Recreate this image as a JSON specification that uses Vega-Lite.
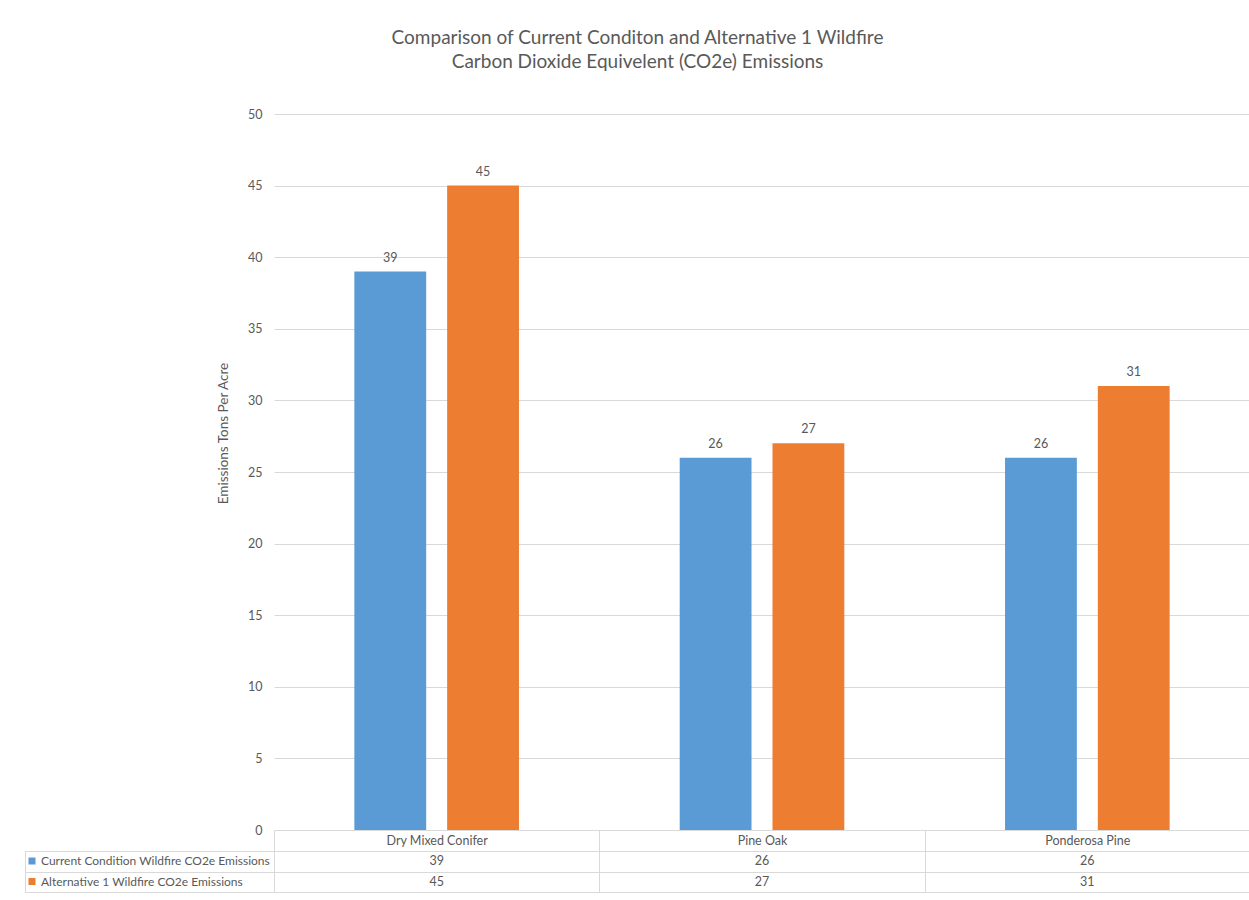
{
  "$schema": "https://vega.github.io/schema/vega-lite/v6.json",
  "padding": {"left": 24, "top": 29, "right": 0, "bottom": 0},
  "background": "white",
  "title": {
    "text": ["Comparison of Current Conditon and Alternative 1 Wildfire", "Carbon Dioxide Equivelent (CO2e) Emissions"],
    "fontSize": 19,
    "font": "Lato",
    "fontWeight": "normal",
    "color": "#595959",
    "anchor": "middle",
    "offset": 36,
    "lineHeight": 24
  },
  "data": {
    "values": [
      {"type": "Dry Mixed Conifer", "series": "Current Condition Wildfire CO2e Emissions", "value": 39},
      {"type": "Dry Mixed Conifer", "series": "Alternative 1 Wildfire CO2e Emissions", "value": 45},
      {"type": "Pine Oak", "series": "Current Condition Wildfire CO2e Emissions", "value": 26},
      {"type": "Pine Oak", "series": "Alternative 1 Wildfire CO2e Emissions", "value": 27},
      {"type": "Ponderosa Pine", "series": "Current Condition Wildfire CO2e Emissions", "value": 26},
      {"type": "Ponderosa Pine", "series": "Alternative 1 Wildfire CO2e Emissions", "value": 31}
    ]
  },
  "bounds": "flush",
  "spacing": 21,
  "resolve": {"scale": {"color": "independent"}, "legend": {"color": "independent"}},
  "config": {"view": {"stroke": null}, "font": "Lato"},
  "vconcat": [
    {
      "width": 976,
      "height": 716,
      "layer": [
        {
          "mark": {"type": "bar"},
          "encoding": {
            "x": {"field": "type", "type": "nominal", "sort": null, "axis": null, "scale": {"paddingInner": 0.494, "paddingOuter": 0.247}},
            "xOffset": {"field": "series", "type": "nominal", "sort": ["Current Condition Wildfire CO2e Emissions", "Alternative 1 Wildfire CO2e Emissions"], "scale": {"paddingInner": 0.226, "paddingOuter": 0}},
            "y": {
              "field": "value", "type": "quantitative",
              "scale": {"domain": [0, 50]},
              "axis": {
                "title": "Emissions Tons Per Acre",
                "values": [0, 5, 10, 15, 20, 25, 30, 35, 40, 45, 50],
                "grid": true, "gridColor": "#d9d9d9",
                "domain": false, "ticks": false,
                "labelPadding": 12, "labelFontSize": 12.5, "labelColor": "#595959",
                "titleFontSize": 13.5, "titleFontWeight": "normal", "titleColor": "#595959", "titlePadding": 17,
                "titleY": 319
              }
            },
            "color": {
              "field": "series", "type": "nominal",
              "scale": {"domain": ["Current Condition Wildfire CO2e Emissions", "Alternative 1 Wildfire CO2e Emissions"], "range": ["#5b9bd5", "#ed7d31"]},
              "legend": null
            }
          }
        },
        {
          "mark": {"type": "text", "baseline": "middle", "dy": -14, "fontSize": 12.5, "color": "#595959"},
          "encoding": {
            "x": {"field": "type", "type": "nominal", "sort": null},
            "xOffset": {"field": "series", "type": "nominal", "sort": ["Current Condition Wildfire CO2e Emissions", "Alternative 1 Wildfire CO2e Emissions"]},
            "y": {"field": "value", "type": "quantitative"},
            "text": {"field": "value", "type": "quantitative"}
          }
        }
      ]
    },
    {
      "width": 976,
      "height": 41,
      "layer": [
        {
          "mark": {"type": "text", "fontSize": 12.5, "color": "#595959"},
          "encoding": {
            "x": {
              "field": "type", "type": "nominal", "sort": null,
              "scale": {"type": "band", "padding": 0},
              "axis": {
                "orient": "top", "title": null, "labelAngle": 0,
                "tickBand": "extent", "tickSize": 21, "tickColor": "#d9d9d9",
                "labelPadding": -10.5, "labelBaseline": "middle", "labelFontSize": 12.5, "labelColor": "#595959",
                "domainColor": "#d9d9d9",
                "grid": true, "gridBand": "extent", "gridColor": "#d9d9d9"
              }
            },
            "y": {
              "field": "series", "type": "nominal",
              "sort": ["Current Condition Wildfire CO2e Emissions", "Alternative 1 Wildfire CO2e Emissions"],
              "scale": {"type": "band", "padding": 0},
              "axis": {
                "title": null, "labels": false, "offset": 249,
                "domainColor": "#d9d9d9",
                "tickSize": -249, "tickBand": "extent", "tickColor": "#d9d9d9",
                "grid": true, "gridBand": "extent", "gridColor": "#d9d9d9"
              }
            },
            "text": {"field": "value", "type": "quantitative"}
          }
        },
        {
          "mark": {"type": "square", "opacity": 0},
          "encoding": {
            "x": {"field": "type", "type": "nominal", "sort": null},
            "y": {"field": "series", "type": "nominal", "sort": ["Current Condition Wildfire CO2e Emissions", "Alternative 1 Wildfire CO2e Emissions"]},
            "color": {
              "field": "series", "type": "nominal",
              "scale": {"domain": ["Current Condition Wildfire CO2e Emissions", "Alternative 1 Wildfire CO2e Emissions"], "range": ["#5b9bd5", "#ed7d31"]},
              "legend": {
                "orient": "none", "legendX": -248, "legendY": 4,
                "title": null, "symbolType": "square", "symbolSize": 49, "symbolOpacity": 1, "symbolStrokeWidth": 0,
                "labelFontSize": 12, "labelColor": "#595959", "labelFont": "Lato", "labelLimit": 300,
                "rowPadding": 8.5, "labelOffset": 3
              }
            }
          }
        }
      ]
    }
  ]
}
